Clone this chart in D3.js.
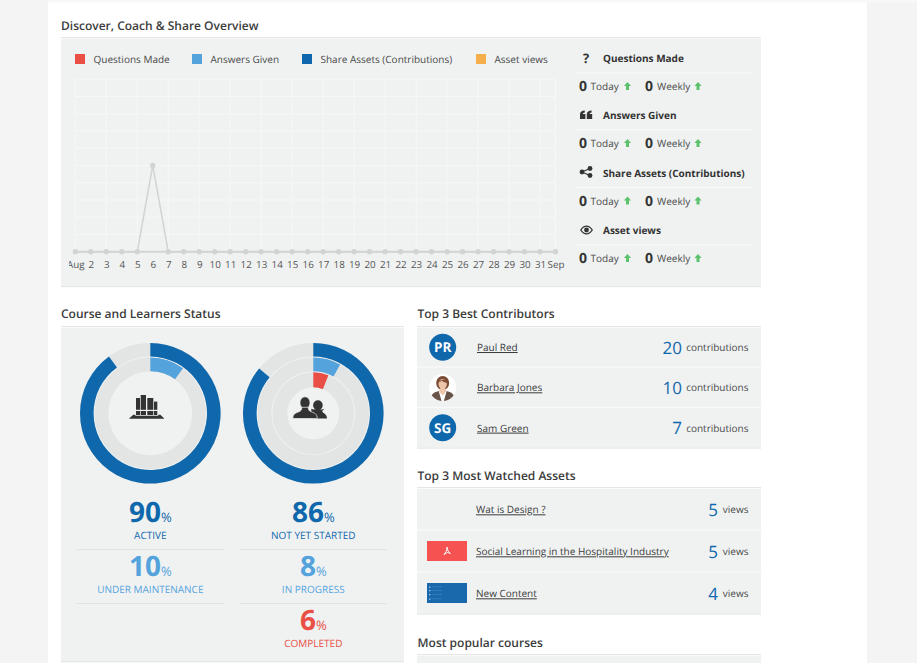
<!DOCTYPE html>
<html><head><meta charset="utf-8">
<script src="https://cdn.jsdelivr.net/npm/d3@7"></script>
<style>
html,body{margin:0;padding:0;background:#f4f4f4;overflow:hidden}
svg{display:block;text-rendering:geometricPrecision}
text{font-family:"Open Sans",sans-serif}
.ax text{font-family:"Open Sans",sans-serif}
</style></head><body><div id="c"></div>
<script>
// ---- data ----
const dayLabels=["Aug","2","3","4","5","6","7","8","9","10","11","12","13","14","15","16","17","18","19","20","21","22","23","24","25","26","27","28","29","30","31","Sep"];
const activityValues=[0,0,0,0,0,1,0,0,0,0,0,0,0,0,0,0,0,0,0,0,0,0,0,0,0,0,0,0,0,0,0,0];
const legendLabels=["Questions Made","Answers Given","Share Assets (Contributions)","Asset views"];
const legendColors=["#e94f45","#55a3dd","#1068ac","#f5ae4c"];
const todayValues=[0,0,0,0];
const weeklyValues=[0,0,0,0];
const courseValues=[90,10];
const courseLabels=["ACTIVE","UNDER MAINTENANCE"];
const courseColors=["#1068ac","#55a3dd"];
const learnerValues=[86,8,6];
const learnerLabels=["NOT YET STARTED","IN PROGRESS","COMPLETED"];
const learnerColors=["#1068ac","#55a3dd","#e94f45"];
const contributorNames=["Paul Red","Barbara Jones","Sam Green"];
const contributorInitials=["PR","","SG"];
const contributorValues=[20,10,7];
const assetNames=["Wat is Design ?","Social Learning in the Hospitality Industry","New Content"];
const assetValues=[5,5,4];

const W=917,H=663,PANEL="#f0f2f2",LINE="#e4e6e6",INK="#3c3c3c";
const svg=d3.select("#c").append("svg").attr("width",W).attr("height",H);
svg.append("rect").attr("x",48).attr("y",0).attr("width",869).attr("height",2.5).attr("fill","#f8f8f8");
svg.append("rect").attr("x",48).attr("y",2.5).attr("width",819).attr("height",H).attr("fill","#fff");

function title(t,x,y){svg.append("text").attr("x",x).attr("y",y).attr("font-size",12).attr("font-weight",600).attr("fill",INK).text(t);}
function panel(x,y,w,h){
  svg.append("rect").attr("x",x).attr("y",y).attr("width",w).attr("height",h).attr("fill",PANEL);
  svg.append("rect").attr("x",x).attr("y",y-2).attr("width",w).attr("height",1.2).attr("fill",LINE);
  svg.append("rect").attr("x",x).attr("y",y+h).attr("width",w).attr("height",1.2).attr("fill",LINE);
}

// ---- overview ----
title("Discover, Coach & Share Overview",61,30);
panel(61,39,700,247);
const legendX=[75,192,302,476];
const lg=svg.append("g").selectAll("g").data(legendLabels).join("g").attr("transform",(d,i)=>`translate(${legendX[i]},54)`);
lg.append("rect").attr("width",10).attr("height",10).attr("fill",(d,i)=>legendColors[i]);
lg.append("text").attr("x",18.5).attr("y",9).attr("font-size",10).attr("fill","#4a4a4a").text(d=>d);

const x=d3.scalePoint().domain(d3.range(dayLabels.length)).range([75.3,555.5]);
const y=d3.scaleLinear().domain([0,2]).range([251.7,79.3]);
const grid=svg.append("g").attr("stroke","#f6f7f7").attr("stroke-width",1);
grid.selectAll("line.h").data(y.ticks(10)).join("line").attr("class","h").attr("x1",75.3).attr("x2",555.5).attr("y1",d=>y(d)).attr("y2",d=>y(d));
grid.selectAll("line.v").data(x.domain().filter(i=>i%2===0).concat([dayLabels.length-1])).join("line").attr("class","v").attr("x1",d=>x(d)).attr("x2",d=>x(d)).attr("y1",79.3).attr("y2",251.7);

svg.append("clipPath").attr("id","axclip").append("rect").attr("x",69).attr("y",255).attr("width",500).attr("height",20);
const axis=d3.axisBottom(x).tickSize(0).tickPadding(9).tickFormat(i=>dayLabels[i]);
const ax=svg.append("g").attr("class","ax").attr("clip-path","url(#axclip)").append("g").attr("transform","translate(0,251.7)").call(axis);
ax.select(".domain").remove();
ax.selectAll("text").attr("font-size",9.8).attr("fill","#555");

const lineGen=d3.line().x((d,i)=>x(i)).y(d=>y(d));
svg.append("path").datum(activityValues).attr("d",lineGen).attr("fill","none").attr("stroke","#d2d3d3").attr("stroke-width",1.5);
svg.append("path").attr("d",`M${x(0)},${y(0)}H${x(31)}`).attr("stroke","#d2d3d3").attr("stroke-width",2);
svg.append("g").selectAll("circle").data(activityValues).join("circle").attr("cx",(d,i)=>x(i)).attr("cy",d=>y(d)).attr("r",2.7).attr("fill","#d2d3d3");

// ---- side stats ----
const rowY=[58,115,172.5,230];
const side=svg.append("g").selectAll("g").data(legendLabels).join("g").attr("transform",(d,i)=>`translate(0,${rowY[i]})`);
side.append("text").attr("x",603).attr("y",4).attr("font-size",10).attr("font-weight",700).attr("fill","#333").text(d=>d);
side.append("rect").attr("x",576).attr("y",14.3).attr("width",177).attr("height",1).attr("fill","#fafafa");
function sideStat(g,vals,x0,label,lx,ax_){
  g.append("text").attr("x",x0).attr("y",33).attr("font-size",14).attr("font-weight",700).attr("fill","#333").text((d,i)=>vals[i]);
  g.append("text").attr("x",lx).attr("y",32).attr("font-size",10).attr("fill","#4a4a4a").text(label);
  g.append("path").attr("transform",`translate(${ax_},28)`).attr("d","M0,-4L3.6,0H1.5V4H-1.5V0H-3.6Z").attr("fill","#5cc26b");
}
sideStat(side,todayValues,579,"Today",590.5,627.5);
sideStat(side,weeklyValues,645,"Weekly",657,698);
// side icons
const ic=svg.append("g").attr("fill","#333");
ic.append("text").attr("x",586).attr("y",63).attr("text-anchor","middle").attr("font-size",13).attr("font-weight",700).text("?");
ic.append("path").attr("d","M580,114.500c0,-2.500 1.400,-3.800 4.800,-4v2c-1.200,.1 -2,.6 -2,1.600h2.600v5h-5.400zM586.800,114.500c0,-2.500 1.400,-3.800 4.800,-4v2c-1.200,.1 -2,.6 -2,1.600h2.600v5h-5.400z");
ic.append("g").call(g=>{
  [[582,172],[590,168.5],[590,175.500]].forEach(p=>g.append("circle").attr("cx",p[0]).attr("cy",p[1]).attr("r",2.4));
  g.append("path").attr("d","M590,168.500L582,172L590,175.500").attr("fill","none").attr("stroke","#333").attr("stroke-width",1.2);
});
ic.append("path").attr("fill-rule","evenodd").attr("d","M580,230c2,-3.200 4.300,-4.500 6.500,-4.500s4.500,1.300 6.500,4.500c-2,3.200 -4.300,4.500 -6.500,4.500s-4.500,-1.300 -6.500,-4.500zM581.500,230c1.500,2.300 3.300,3.300 5,3.300s3.500,-1 5,-3.300c-1.500,-2.300 -3.300,-3.300 -5,-3.300s-3.500,1 -5,3.300z");
ic.append("circle").attr("cx",586.5).attr("cy",230).attr("r",2.4);

// ---- status panel ----
title("Course and Learners Status",61,318);
panel(61,328,343,333);
const pct=d3.scaleLinear().domain([0,100]).range([0,2*Math.PI]);
const RINGS=[[56.7,70.3],[42,55.7],[26,41]];
function donut(cx,values,colors){
  const g=svg.append("g").attr("transform",`translate(${cx},413.3)`);
  values.forEach((v,i)=>{
    const r=RINGS[i],a=d3.arc().innerRadius(r[0]).outerRadius(r[1]);
    g.append("path").attr("d",a({startAngle:0,endAngle:2*Math.PI})).attr("fill","#e3e5e5");
    g.append("path").attr("d",a({startAngle:0,endAngle:pct(v)})).attr("fill",colors[i]);
  });
  return g;
}
function stats(cx,values,labels,colors){
  const base=[521.5,575.5,629.5],lab=[539,593,647],sep=[549,603];
  values.forEach((v,i)=>{
    const t=svg.append("text").attr("x",cx).attr("y",base[i]).attr("text-anchor","middle").attr("fill",colors[i]);
    t.append("tspan").attr("font-size",28).attr("font-weight",700).text(v);
    t.append("tspan").attr("font-size",13).text("%");
    svg.append("text").attr("x",cx).attr("y",lab[i]).attr("text-anchor","middle").attr("font-size",10).attr("fill",colors[i]).text(labels[i]);
  });
  sep.forEach(s=>svg.append("rect").attr("x",cx-73.500).attr("y",s).attr("width",147).attr("height",1).attr("fill","#e2e4e4"));
}
const d1=donut(150.3,courseValues,courseColors);
const d2=donut(313.3,learnerValues,learnerColors);
stats(150.3,courseValues,courseLabels,courseColors);
stats(313.3,learnerValues,learnerLabels,learnerColors);
// books icon
const bk=d1.append("g").attr("fill","#333");
[[-14.3,-15.3,4,17],[-9.6,-18.3,5.3,20],[-3,-15.3,6,17],[3.7,-11.7,3.3,13.4]].forEach(b=>bk.append("rect").attr("x",b[0]).attr("y",b[1]).attr("width",b[2]).attr("height",b[3]));
bk.append("rect").attr("x",-15).attr("y",-3.500).attr("width",23).attr("height",1.200).attr("fill",PANEL);
bk.append("path").attr("d","M-17,1.500H-15V2.500H8V1.500H10L13.700,5V5.500H-21V5Z");
// people icon
const pp=d2.append("g");
pp.append("ellipse").attr("cx",4.6).attr("cy",-8).attr("rx",4.8).attr("ry",5).attr("fill","#333");
pp.append("path").attr("d","M-2,-4.500C0,-3.500 1,-4 4.600,-4C8,-4 9.500,-3.500 11,-4.500C10,-3 9,-3 9,-2C9,0 13.700,0 13.700,5.200H-2Z").attr("fill","#333");
pp.append("ellipse").attr("cx",-8.3).attr("cy",-10.500).attr("rx",5).attr("ry",6).attr("fill","#333").attr("stroke",PANEL).attr("stroke-width",.6);
pp.append("path").attr("d","M-20.500,5.200C-20.500,.5 -17,-.5 -14.500,-1.500C-12,-2.500 -11.500,-3.500 -11.500,-6H-5C-5,-3.500 -4.500,-2.500 -2,-1.500C.5,-.5 4,.5 4,5.200Z").attr("fill","#333").attr("stroke",PANEL).attr("stroke-width",.7);

// ---- contributors ----
title("Top 3 Best Contributors",417.5,318);
panel(417,328,344,119.5);
const blue="#1068ac";
const rowH=40.3;
const cy0=347.2;
const rows=svg.append("g").selectAll("g").data(contributorNames).join("g").attr("transform",(d,i)=>`translate(0,${cy0+i*rowH})`);
rows.filter((d,i)=>i<2).append("rect").attr("x",417).attr("y",19.3).attr("width",344).attr("height",1.2).attr("fill","#fafafa");
rows.append("circle").attr("cx",442.7).attr("cy",0).attr("r",13.5).attr("fill",(d,i)=>contributorInitials[i]?blue:"#fff");
rows.append("text").attr("x",442.7).attr("y",4.8).attr("text-anchor","middle").attr("font-size",13.5).attr("font-weight",700).attr("fill","#fff").text((d,i)=>contributorInitials[i]);
rows.append("text").attr("x",477).attr("y",3.8).attr("font-size",10).attr("fill",INK).attr("text-decoration","underline").text(d=>d);
rows.append("text").attr("x",682).attr("y",6.5).attr("text-anchor","end").attr("font-size",17).attr("fill",blue).text((d,i)=>contributorValues[i]);
rows.append("text").attr("x",748.500).attr("y",3.800).attr("text-anchor","end").attr("font-size",10).attr("fill","#4a4a4a").text("contributions");
// portrait
const pic=svg.append("g").attr("transform",`translate(442.7,${cy0+rowH})`);
pic.append("clipPath").attr("id","pc").append("circle").attr("r",13.5);
const pg=pic.append("g").attr("clip-path","url(#pc)");
pg.append("path").attr("d","M-13,14C-12,6 -8,4.500 -4,3.500L-1,14ZM13,14C12,6 8,4.500 4,3.500L1,14Z").attr("fill","#6a5348");
pg.append("ellipse").attr("cx",0).attr("cy",-4.500).attr("rx",6.500).attr("ry",7).attr("fill","#7a4a32");
pg.append("path").attr("d","M-2.500,-2H2.500V2L4,3.500L0,8L-4,3.500L-2.500,2Z").attr("fill","#eec6ac");
pg.append("ellipse").attr("cx",0).attr("cy",-3.500).attr("rx",4.200).attr("ry",5).attr("fill","#ecc4aa");
pg.append("path").attr("d","M-4.500,-5C-3,-7 -1,-8 1,-8C3,-8 4.500,-6 4.500,-4.500C2,-5 0,-6 -1,-7C-2,-6 -3,-5.500 -4.500,-5Z").attr("fill","#7a4a32");

// ---- assets ----
title("Top 3 Most Watched Assets",417.5,480);
panel(417,489,344,124.5);
const rowH2=42;
const cy2=509.5;
const arows=svg.append("g").selectAll("g").data(assetNames).join("g").attr("transform",(d,i)=>`translate(0,${cy2+i*rowH2})`);
arows.filter((d,i)=>i<2).append("rect").attr("x",417).attr("y",20).attr("width",344).attr("height",1.2).attr("fill","#fafafa");
arows.append("text").attr("x",476).attr("y",3.800).attr("font-size",10).attr("fill",INK).attr("text-decoration","underline").text(d=>d);
arows.append("text").attr("x",718).attr("y",6.5).attr("text-anchor","end").attr("font-size",17).attr("fill",blue).text((d,i)=>assetValues[i]);
arows.append("text").attr("x",748.500).attr("y",3.800).attr("text-anchor","end").attr("font-size",10).attr("fill","#4a4a4a").text("views");
svg.append("rect").attr("x",427).attr("y",541).attr("width",40).attr("height",20).attr("fill","#f65252");
svg.append("path").attr("d","M447,547L448,551L450.500,553.500L447.500,552.500L444,554.500L446.500,551Z").attr("fill","none").attr("stroke","#fff").attr("stroke-width",.9);
svg.append("rect").attr("x",427).attr("y",583).attr("width",40).attr("height",20).attr("fill","#1a69ad");
[586.500,590,594,598.500].forEach(v=>{
  svg.append("rect").attr("x",429).attr("y",v).attr("width",1.500).attr("height",1.200).attr("fill","#a9c8e3");
  svg.append("rect").attr("x",432).attr("y",v).attr("width",10).attr("height",.7).attr("fill","#3f82bb");
});

title("Most popular courses",417.5,647);
svg.append("rect").attr("x",417).attr("y",654).attr("width",344).attr("height",1.200).attr("fill",LINE);
svg.append("rect").attr("x",417).attr("y",656).attr("width",344).attr("height",8).attr("fill",PANEL);
</script></body></html>
